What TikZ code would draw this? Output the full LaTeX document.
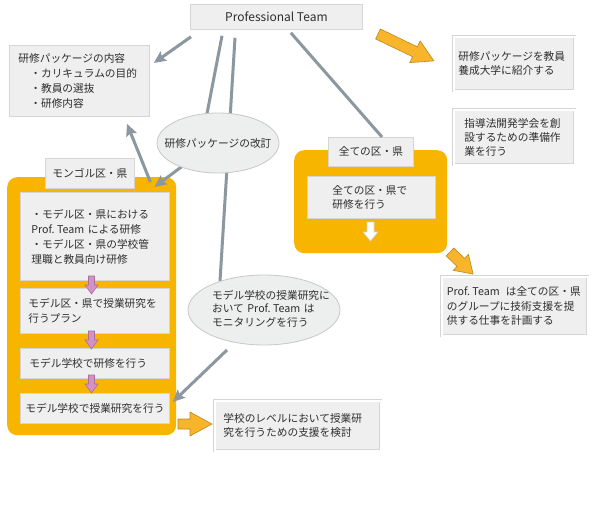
\documentclass[tikz,border=0pt]{standalone}
\usepackage{fontspec}
\setmainfont{Noto Sans CJK JP}
\frenchspacing
\usetikzlibrary{calc,arrows.meta,shapes.geometric}
\definecolor{orng}{HTML}{F7B500}
\definecolor{arrorng}{HTML}{F8B42A}
\definecolor{arrline}{HTML}{B98A1E}
\definecolor{boxfill}{HTML}{EEEFEE}
\definecolor{boxline}{HTML}{D4D5D4}
\definecolor{ellfill}{HTML}{EDEEEE}
\definecolor{ellline}{HTML}{C6C7C6}
\definecolor{conn}{HTML}{8C989F}
\definecolor{txt}{HTML}{2E2E2E}
\definecolor{pinkf}{HTML}{D590C5}
\definecolor{pinkline}{HTML}{A7709A}
\pgfdeclarelayer{bg}\pgfdeclarelayer{mid}\pgfsetlayers{bg,mid,main}
\newcommand{\ProfT}{Prof.\hspace{2.5pt}Team}
% x, y, angle, length, shaft half width, head length, head half width, style
\newcommand{\blkarrow}[8]{%
  \begin{scope}[shift={(#1,#2)},rotate=#3]
    \draw[#8] (0,-#5) -- (#4-#6,-#5) -- (#4-#6,-#7) -- (#4,0) -- (#4-#6,#7) -- (#4-#6,#5) -- (0,#5) -- cycle;
  \end{scope}}
\begin{document}
\begin{tikzpicture}[x=1pt,y=-1pt,
  font=\fontsize{10.7}{15}\selectfont, text=txt,
  box/.style={draw=boxline, fill=boxfill, line width=0.8pt, anchor=north west, inner ysep=0pt, align=left},
  dbox/.style={draw=boxline, double=white, double distance=1.6pt, line width=0.7pt, fill=boxfill, anchor=north west, inner ysep=0pt, align=left},
  obox/.style={fill=orng, rounded corners=10pt, anchor=north west, inner sep=0pt},
  ell/.style={ellipse, draw=ellline, fill=ellfill, line width=0.8pt, inner sep=0pt},
  connl/.style={draw=conn, line width=3pt},
  conna/.style={connl, -{Stealth[length=12pt,width=11pt,inset=2pt]}},
  orarrow/.style={fill=arrorng, draw=arrline, line width=0.6pt},
  pkarrow/.style={fill=pinkf, draw=pinkline, line width=0.6pt},
  wharrow/.style={fill=white, draw=boxline, line width=0.6pt}]
\useasboundingbox (0,0) rectangle (593,505);
\begin{pgfonlayer}{bg}
  \fill[white] (0,0) rectangle (593,505);
  \node[obox, minimum width=169, minimum height=258] (mong) at (7,177) {};
  \node[obox, minimum width=153, minimum height=103] (allb) at (294,150) {};
  \node[box, minimum width=89, minimum height=30, align=center] (tab1) at (45,158) {モンゴル区・県};
  \node[box, minimum width=85, minimum height=29, align=center] (tab2) at (328,137) {全ての区・県};
  \node[box, minimum width=149, minimum height=88, inner xsep=11pt, text width=127pt] (b1) at (20,192)
    {・モデル区・県における\\\ProfT\hspace{3.5pt}による研修\\・モデル区・県の学校管\\理職と教員向け研修};
  \node[box, minimum width=149, minimum height=45, inner xsep=8pt, text width=133pt] (b2) at (20,288)
    {モデル区・県で授業研究を\\行うプラン};
  \node[box, minimum width=149, minimum height=30, inner xsep=9pt, text width=131pt] (b3) at (20,348)
    {モデル学校で研修を行う};
  \node[box, minimum width=149, minimum height=30, align=center] (b4) at (20,393)
    {モデル学校で授業研究を行う};
  \node[box, minimum width=128, minimum height=42, inner xsep=25pt, text width=78pt,
        font=\fontsize{10.7}{13.5}\selectfont] (allin) at (307,176)
    {全ての区・県で\\研修を行う};
\end{pgfonlayer}

\node[box, minimum width=172, minimum height=25, align=center, font=\fontsize{12}{14}\selectfont] (pt) at (190,4) {Professional Team};
\node[box, minimum width=140, minimum height=71, inner xsep=9pt, text width=122pt] (content) at (9,45)
  {研修パッケージの内容\\\hspace{12pt}・カリキュラムの目的\\\hspace{12pt}・教員の選抜\\\hspace{12pt}・研修内容};
\node[dbox, minimum width=121, minimum height=54, inner xsep=4.5pt, text width=112pt,
      font=\fontsize{10.7}{14}\selectfont] (rA) at (453.5,36.5)
  {研修パッケージを教員\\養成大学に紹介する};
\node[dbox, minimum width=121, minimum height=55, inner xsep=10.5pt, text width=100pt,
      font=\fontsize{10.7}{14}\selectfont] (rB) at (453.5,109.5)
  {指導法開発学会を創\\設するための準備作\\業を行う};
\node[dbox, minimum width=146, minimum height=59, inner xsep=5pt, text width=136pt,
      font=\fontsize{10.7}{14.5}\selectfont] (rC) at (441.5,276.5)
  {\ProfT\hspace{6pt}は全ての区・県\\のグループに技術支援を提\\供する仕事を計画する};
\node[dbox, minimum width=166, minimum height=50, inner xsep=8.5pt, text width=149pt,
      font=\fontsize{10.7}{14}\selectfont] (bot) at (214.5,400.5)
  {学校のレベルにおいて授業研\\究を行うための支援を検討};
\node[ell, minimum width=122, minimum height=60] (e1) at (218,143) {\makebox[0pt]{研修パッケージの改訂}};
\node[ell, minimum width=152, minimum height=70] (e2) at (264,310)
  {\makebox[0pt]{\hspace{14pt}\fontsize{10.7}{13.5}\selectfont\begin{tabular}{@{}l@{}}モデル学校の授業研究に\\おいて\hspace{3.5pt}\ProfT\hspace{3.5pt}は\\モニタリングを行う\end{tabular}}};

\begin{pgfonlayer}{mid}
  \draw[conna] ($(pt.south west)+(1,7)$) -- ($(content.north east)+(4,18)$);
  \draw[connl] ($(pt.south west)+(32,6)$) -- ($(e1.north)+(-11,1)$);
  \draw[connl] ($(pt.south west)+(45,8)$) -- ($(e2.north)+(-44,6.5)$);
  \draw[connl] ($(pt.south east)+(-72,3)$) -- ($(tab2.north west)+(54,0)$);
  \draw[conna] ($(e1.center)+(-26,16)$) -- ($(mong.north east)+(-22,10)$);
  \draw[conna] ($(mong.north east)+(-26,5)$) -- ($(content.south west)+(118,7)$);
  \draw[conna] ($(e2.center)+(-37,40)$) -- ($(b4.north east)+(3,9)$);
\end{pgfonlayer}

% block arrows
\blkarrow{378}{34}{-25.7}{62}{5.5}{21}{12}{orarrow}
\blkarrow{450}{252}{-43.7}{32}{5.5}{17}{11}{orarrow}
\blkarrow{178}{424}{0}{34}{5}{22}{12}{orarrow}
\blkarrow{91.5}{276}{-90}{18}{3}{9}{6.5}{pkarrow}
\blkarrow{91.5}{331}{-90}{18}{3}{9}{6.5}{pkarrow}
\blkarrow{91.5}{375}{-90}{18}{3}{9}{6.5}{pkarrow}
\blkarrow{370.5}{222}{-90}{19}{3.5}{9}{7.5}{wharrow}
\end{tikzpicture}
\end{document}
